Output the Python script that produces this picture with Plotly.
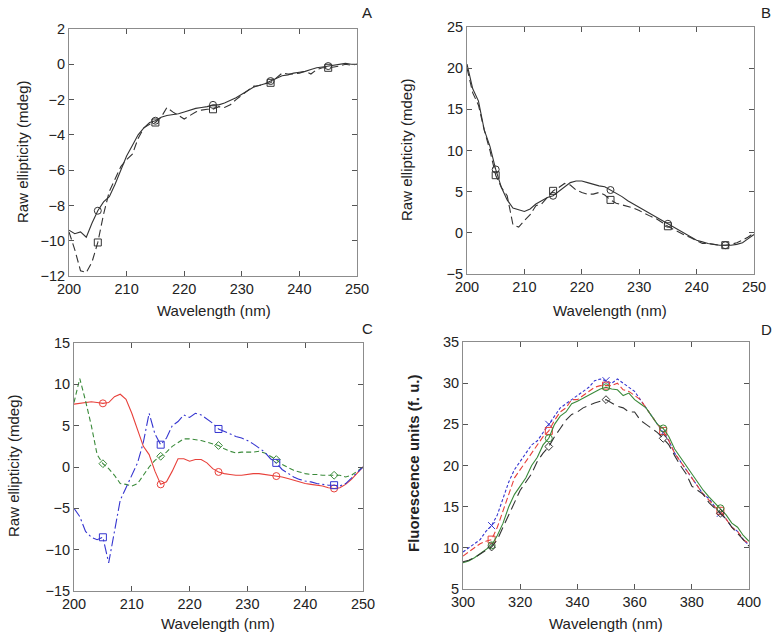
import plotly.graph_objects as go

# ---------------- DATA ----------------
wl_cd = list(range(200, 251))
mark_cd = [205, 215, 225, 235, 245]

a_solid = [-9.4, -9.6, -9.5, -9.8, -9.0, -8.3, -7.8, -7.5, -6.8, -6.0, -5.2, -4.6, -4.0, -3.6, -3.3, -3.2,
           -3.0, -2.9, -2.85, -2.8, -2.7, -2.6, -2.5, -2.45, -2.4, -2.3, -2.3, -2.2, -2.05, -1.9, -1.7, -1.5,
           -1.3, -1.2, -1.1, -0.95, -0.8, -0.65, -0.6, -0.5, -0.45, -0.4, -0.3, -0.2, -0.15, -0.1, -0.05,
           0.0, 0.05, 0.0, 0.0]
a_dash = [-9.5, -10.5, -11.7, -11.8, -11.2, -10.1, -8.5, -7.2, -6.5, -5.8, -5.4, -5.1, -4.2, -3.6, -3.4,
          -3.3, -3.0, -2.45, -2.7, -2.9, -3.1, -2.9, -2.7, -2.6, -2.55, -2.55, -2.4, -2.45, -2.3, -2.0,
          -1.75, -1.5, -1.25, -1.2, -1.1, -1.05, -0.8, -0.5, -0.55, -0.55, -0.5, -0.4, -0.55, -0.3, -0.2,
          -0.2, -0.15, -0.1, 0.0, -0.05, 0.0]

b_solid = [20.5, 17.5, 16.0, 12.5, 10.5, 7.7, 5.5, 4.0, 3.0, 2.8, 2.6, 2.9, 3.5, 3.9, 4.3, 4.5, 5.0, 5.6,
           6.1, 6.3, 6.3, 6.1, 5.9, 5.7, 5.6, 5.2, 4.9, 4.4, 3.9, 3.5, 3.1, 2.7, 2.3, 1.9, 1.5, 1.1, 0.6,
           0.2, -0.2, -0.6, -0.9, -1.1, -1.3, -1.4, -1.5, -1.5, -1.5, -1.4, -1.2, -0.7, -0.2]
b_dash = [20.0, 17.0, 15.5, 12.5, 10.0, 7.0, 5.5, 4.5, 1.0, 0.7, 1.5, 2.2, 3.3, 3.5, 4.3, 5.1, 5.5, 6.0,
          5.8, 5.2, 4.9, 4.7, 4.7, 4.9, 4.6, 4.0, 3.6, 3.4, 3.2, 3.0, 2.7, 2.3, 2.0, 1.7, 1.2, 0.8, 0.4,
          0.0, -0.3, -0.6, -1.0, -1.3, -1.3, -1.4, -1.5, -1.5, -1.4, -1.2, -0.9, -0.5, 0.0]

c_red = [7.6, 7.7, 7.8, 7.9, 7.8, 7.7, 7.8, 8.5, 8.8, 8.2, 6.5, 4.5, 2.5, 1.5, -0.5, -2.1, -1.8, -0.5,
         1.0, 1.0, 0.7, 0.9, 0.9, 0.5, -0.2, -0.6, -0.8, -0.9, -1.0, -1.0, -0.9, -0.8, -0.8, -0.9, -1.0,
         -1.1, -1.2, -1.4, -1.6, -1.8, -2.0, -2.1, -2.2, -2.3, -2.5, -2.6, -2.5, -2.1, -1.5, -0.8, 0.0]
c_green = [7.8, 10.7, 8.0, 5.0, 1.5, 0.4, -0.2, -1.0, -2.0, -2.1, -2.3, -2.0, -1.0, 0.0, 0.8, 1.3, 1.8,
           2.5, 3.0, 3.4, 3.4, 3.3, 3.2, 3.0, 2.8, 2.6, 2.2, 1.9, 1.7, 1.8, 1.8, 1.8, 1.9, 1.7, 1.3, 0.9,
           0.3, -0.1, -0.4, -0.6, -0.8, -0.9, -0.9, -1.0, -1.0, -1.0, -1.0, -1.2, -1.0, -0.5, 0.0]
c_blue = [-5.0, -6.0, -7.8, -8.5, -8.8, -8.5, -11.6, -8.0, -4.0, -2.5, -1.0, 0.5, 3.0, 6.5, 4.0, 2.7,
          3.5, 5.0, 5.5, 6.3, 6.0, 6.5, 6.3, 5.8, 5.3, 4.6, 4.3, 4.0, 3.7, 3.5, 3.2, 2.8, 2.3, 1.8, 1.0,
          0.5, -0.3, -0.8, -1.2, -1.5, -1.7, -1.8, -2.0, -2.1, -2.2, -2.2, -2.3, -2.0, -1.3, -0.6, 0.0]

wl_fl = list(range(300, 401, 2))
mark_fl = [310, 330, 350, 370, 390]
d_blue = [9.5, 10.0, 10.5, 11.0, 12.0, 12.7, 14.0, 16.0, 18.0, 19.5, 20.5, 21.5, 22.5, 23.0, 24.0, 25.0,
          26.0, 27.0, 27.5, 28.0, 28.5, 29.0, 29.5, 30.3, 30.5, 30.3, 30.0, 30.5, 30.0, 29.5, 29.0, 28.0,
          27.0, 26.0, 25.0, 24.0, 23.0, 21.5, 20.5, 19.5, 18.5, 17.5, 16.5, 16.0, 15.0, 14.2, 13.5, 12.5,
          12.0, 11.0, 10.3]
d_red = [9.0, 9.5, 10.0, 10.5, 10.8, 11.0, 12.5, 14.5, 16.5, 18.5, 19.5, 20.5, 21.5, 22.5, 23.5, 24.2,
         25.5, 26.5, 27.0, 28.0, 28.0, 28.5, 29.0, 29.5, 29.7, 29.7, 29.7, 30.0, 29.2, 29.0, 28.5, 28.0,
         27.0, 26.0, 25.0, 24.2, 23.0, 21.5, 20.5, 19.5, 18.5, 17.5, 16.5, 15.8, 15.0, 14.5, 13.5, 12.5,
         12.0, 11.0, 10.5]
d_green = [8.2, 8.4, 8.8, 9.3, 9.8, 10.3, 11.5, 13.0, 15.0, 16.5, 17.5, 18.5, 20.0, 21.0, 22.5, 23.3,
           25.0, 26.0, 26.5, 27.5, 27.8, 28.2, 28.6, 29.0, 29.3, 29.5, 29.3, 29.2, 28.5, 28.8, 28.0, 27.5,
           27.0, 26.0, 25.0, 24.5, 23.5, 22.0, 21.0, 20.0, 19.0, 18.0, 17.0, 16.2, 15.5, 14.8, 14.0, 13.0,
           12.5, 11.5, 10.8]
d_black = [8.3, 8.5, 8.8, 9.3, 9.7, 10.1, 11.0, 12.5, 14.0, 15.5, 17.0, 18.0, 19.0, 20.5, 21.5, 22.3,
           23.5, 24.5, 25.5, 26.2, 26.5, 27.0, 27.3, 27.6, 27.8, 28.0, 27.6, 27.2, 27.0, 26.5, 26.5, 25.5,
           25.0, 24.5, 24.0, 23.3, 22.5, 21.2, 20.0, 19.0, 17.5, 17.0, 16.5, 15.5, 14.8, 14.2, 13.5, 12.5,
           11.8, 11.0, 10.2]

x_title = "Wavelength (nm)"
y_title_cd = "Raw ellipticity (mdeg)"
y_title_fl = "Fluorescence units (f. u.)"
panel_labels = ["A", "B", "C", "D"]

# ---------------- FIGURE ----------------
fig = go.Figure()


def add_series(xs, ys, marks, color, dash, symbol, xa, ya, msize=7):
    fig.add_trace(go.Scatter(x=xs, y=ys, mode="lines", xaxis=xa, yaxis=ya,
                             line=dict(color=color, width=1.1, dash=dash), showlegend=False,
                             hoverinfo="skip"))
    my = [ys[xs.index(m)] for m in marks]
    fig.add_trace(go.Scatter(x=marks, y=my, mode="markers", xaxis=xa, yaxis=ya,
                             marker=dict(symbol=symbol, size=msize, color=color,
                                         line=dict(color=color, width=1)),
                             showlegend=False))


BLACK = "#333333"
RED = "#e8403a"
GREEN = "#3a8a3a"
BLUE = "#3535d0"

add_series(wl_cd, a_solid, mark_cd, BLACK, "solid", "circle-open", "x", "y")
add_series(wl_cd, a_dash, mark_cd, BLACK, "8px,4px", "square-open", "x", "y")

add_series(wl_cd, b_solid, mark_cd, BLACK, "solid", "circle-open", "x2", "y2")
add_series(wl_cd, b_dash, mark_cd, BLACK, "8px,4px", "square-open", "x2", "y2")

add_series(wl_cd, c_red, mark_cd, RED, "solid", "circle-open", "x3", "y3")
add_series(wl_cd, c_green, mark_cd, GREEN, "5px,3px", "diamond-open", "x3", "y3", 6)
add_series(wl_cd, c_blue, mark_cd, BLUE, "10px,3px,2px,3px", "square-open", "x3", "y3")

add_series(wl_fl, d_blue, mark_fl, BLUE, "3px,2px", "x-thin-open", "x4", "y4")
add_series(wl_fl, d_red, mark_fl, RED, "6px,3px", "square-open", "x4", "y4")
add_series(wl_fl, d_green, mark_fl, GREEN, "solid", "circle-open", "x4", "y4")
add_series(wl_fl, d_black, mark_fl, BLACK, "10px,5px", "diamond-open", "x4", "y4", 6)

W, H = 777, 639


def xd(a, b):
    return [a / W, b / W]


def yd(top, bot):
    return [1 - bot / H, 1 - top / H]


axis_common = dict(showline=True, linecolor="#8c8c8c", linewidth=1, mirror="ticks",
                   ticks="inside", ticklen=5, tickcolor="#555555", showgrid=False, zeroline=False,
                   automargin=False,
                   tickfont=dict(family="Liberation Sans, Arial", size=14.5, color="#222222"))

layout = dict(width=W, height=H, margin=dict(l=0, r=0, t=0, b=0, pad=0, autoexpand=False),
              paper_bgcolor="white", plot_bgcolor="white",
              font=dict(family="Liberation Sans, Arial", size=14.5, color="#222222"))

panels = [
    ("", xd(69, 357), yd(29, 276), [200, 250], [-12, 2], 2, 10),
    ("2", xd(467, 754), yd(27, 274), [200, 250], [-5, 25], 5, 10),
    ("3", xd(74, 363), yd(343, 591), [200, 250], [-15, 15], 5, 10),
    ("4", xd(463, 749), yd(342, 589), [300, 400], [5, 35], 5, 20),
]
for suf, dx, dy, xr, yr, ydt, xdt in panels:
    layout["xaxis" + suf] = dict(axis_common, domain=dx, range=xr, dtick=xdt,
                                 anchor="y" + suf)
    layout["yaxis" + suf] = dict(axis_common, domain=dy, range=yr, dtick=ydt,
                                 anchor="x" + suf)

fig.update_layout(**layout)

ann = []
# x titles
for cx, cy in [(214, 311), (610, 311), (218, 623), (606, 623)]:
    ann.append(dict(x=cx / W, y=1 - cy / H, xref="paper", yref="paper", text=x_title,
                    showarrow=False, font=dict(size=15, color="#222222"),
                    xanchor="center", yanchor="middle"))
# y titles
for cx, cy, txt, bold in [(22, 152, y_title_cd, False), (406, 150, y_title_cd, False),
                          (13, 466, y_title_cd, False), (413, 463, y_title_fl, True)]:
    t = "<b>" + txt + "</b>" if bold else txt
    ann.append(dict(x=cx / W, y=1 - cy / H, xref="paper", yref="paper", text=t,
                    showarrow=False, textangle=-90, font=dict(size=15, color="#222222"),
                    xanchor="center", yanchor="middle"))
# panel labels
for (cx, cy), lab in zip([(367, 12), (766, 12), (367, 328), (766, 329)], panel_labels):
    ann.append(dict(x=cx / W, y=1 - cy / H, xref="paper", yref="paper", text=lab,
                    showarrow=False, font=dict(size=15, color="#222222"),
                    xanchor="center", yanchor="middle"))
fig.update_layout(annotations=ann)

fig.write_html("out.html", config={"displayModeBar": False},
               post_script="document.body.style.margin='0';document.body.style.overflow='hidden';")
